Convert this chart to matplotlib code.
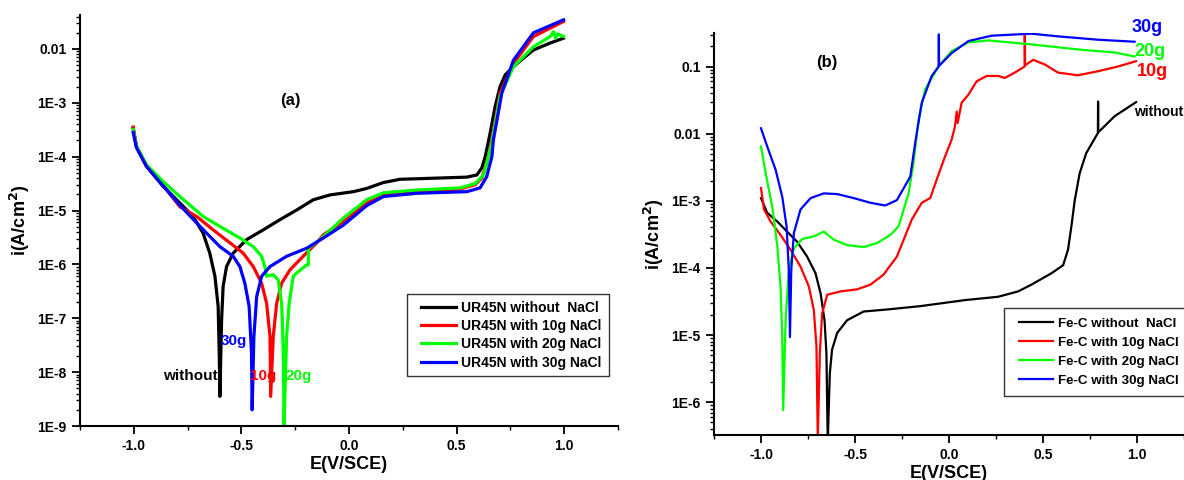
import numpy as np
import matplotlib.pyplot as plt
from matplotlib.lines import Line2D
from matplotlib.legend_handler import HandlerLine2D
from matplotlib.ticker import LogLocator, MultipleLocator, FixedLocator, FixedFormatter

plt.rcParams['font.family'] = ['Liberation Sans', 'DejaVu Sans']
plt.rcParams['font.weight'] = 'bold'

# ---- panel (a): UR45N, (E in V/SCE, log10 i) ----
a_black_E = [-1.003, -0.988, -0.941, -0.864, -0.786, -0.724, -0.678, -0.647, -0.623, -0.608,
             -0.603, -0.6, -0.592, -0.585, -0.569, -0.538, -0.476, -0.399, -0.321, -0.243,
             -0.166, -0.088, 0.02, 0.082, 0.16, 0.237, 0.392, 0.547, 0.594, 0.617, 0.633,
             0.656, 0.679, 0.702, 0.726, 0.764, 0.811, 0.857, 0.935, 0.997]
a_black_logi = [-3.47, -3.81, -4.18, -4.55, -4.86, -5.11, -5.42, -5.79, -6.22, -6.78,
                -7.65, -8.45, -7.03, -6.41, -6.04, -5.79, -5.54, -5.36, -5.17, -4.99,
                -4.80, -4.71, -4.65, -4.59, -4.48, -4.42, -4.40, -4.38, -4.34, -4.21, -4.0,
                -3.56, -3.07, -2.70, -2.48, -2.33, -2.17, -2.02, -1.89, -1.80]

a_red_E = [-1.003, -0.988, -0.941, -0.864, -0.786, -0.708, -0.631, -0.553, -0.492, -0.445,
           -0.406, -0.383, -0.367, -0.364, -0.352, -0.336, -0.313, -0.274, -0.213, -0.15,
           -0.119, -0.026, 0.082, 0.16, 0.315, 0.516, 0.586, 0.617, 0.64, 0.663, 0.702,
           0.764, 0.857, 0.997]
a_red_logi = [-3.45, -3.80, -4.17, -4.53, -4.93, -5.11, -5.36, -5.60, -5.79, -6.04,
              -6.35, -6.72, -7.34, -8.45, -7.34, -6.72, -6.35, -6.10, -5.85, -5.60,
              -5.45, -5.20, -4.86, -4.71, -4.65, -4.60, -4.52, -4.40, -4.12, -3.69, -2.82,
              -2.27, -1.77, -1.49]

a_green_E = [-1.003, -0.988, -0.941, -0.864, -0.786, -0.678, -0.585, -0.507, -0.445, -0.406,
             -0.391, -0.383, -0.352, -0.329, -0.313, -0.305, -0.302, -0.29, -0.278, -0.259,
             -0.243, -0.197, -0.189, -0.188, -0.135, -0.026, 0.082, 0.16, 0.315, 0.516,
             0.586, 0.625, 0.648, 0.663, 0.702, 0.764, 0.857, 0.935, 0.95, 0.96, 0.97, 0.997]
a_green_logi = [-3.5, -3.80, -4.15, -4.46, -4.74, -5.11, -5.33, -5.51, -5.67, -5.85,
                -6.04, -6.22, -6.19, -6.29, -6.72, -7.65, -9.0, -7.34, -6.72, -6.22,
                -6.16, -6.01, -6.01, -5.70, -5.54, -5.14, -4.80, -4.67, -4.62, -4.58,
                -4.5, -4.34, -4.0, -3.75, -2.88, -2.33, -1.96, -1.77, -1.68, -1.8, -1.72, -1.77]

a_blue_E = [-1.003, -0.988, -0.941, -0.864, -0.786, -0.708, -0.647, -0.6, -0.538, -0.507,
            -0.484, -0.464, -0.453, -0.45, -0.442, -0.429, -0.406, -0.367, -0.29, -0.197,
            -0.119, -0.026, 0.082, 0.16, 0.315, 0.547, 0.609, 0.64, 0.664, 0.671, 0.71,
            0.764, 0.857, 0.997]
a_blue_logi = [-3.55, -3.83, -4.18, -4.54, -4.9, -5.23, -5.48, -5.67, -5.85, -6.04,
               -6.35, -6.78, -7.65, -8.70, -7.34, -6.60, -6.22, -6.04, -5.85, -5.70,
               -5.51, -5.27, -4.91, -4.74, -4.68, -4.65, -4.58, -4.37, -4.0, -3.69, -2.82,
               -2.21, -1.70, -1.46]

# ---- panel (b): Fe-C ----
b_black_E = [-1.0, -0.967, -0.913, -0.861, -0.808, -0.755, -0.71, -0.683, -0.662, -0.652,
             -0.645, -0.634, -0.622, -0.595, -0.542, -0.454, -0.330, -0.153, 0.085, 0.262,
             0.368, 0.438, 0.545, 0.607, 0.633, 0.651, 0.669, 0.695, 0.73, 0.792, 0.793,
             0.794, 0.881, 0.995]
b_black_logi = [-2.96, -3.18, -3.31, -3.46, -3.61, -3.83, -4.08, -4.38, -4.78, -5.27,
                -6.6, -5.57, -5.22, -4.97, -4.78, -4.65, -4.62, -4.57, -4.48, -4.43,
                -4.35, -4.25, -4.08, -3.96, -3.73, -3.38, -2.99, -2.59, -2.29, -1.99, -1.52,
                -1.98, -1.74, -1.53]

b_red_E = [-1.0, -0.984, -0.949, -0.896, -0.843, -0.79, -0.745, -0.719, -0.705, -0.698,
           -0.687, -0.675, -0.648, -0.577, -0.489, -0.418, -0.348, -0.277, -0.198, -0.145,
           -0.10, -0.056, -0.021, 0.014, 0.032, 0.041, 0.046, 0.067, 0.103, 0.147, 0.2,
           0.262, 0.297, 0.35, 0.402, 0.403, 0.405, 0.448, 0.51, 0.58, 0.686, 0.792, 0.898, 0.995]
b_red_logi = [-2.81, -3.13, -3.31, -3.51, -3.73, -3.98, -4.28, -4.63, -5.17, -6.55,
              -5.27, -4.68, -4.40, -4.35, -4.32, -4.25, -4.10, -3.83, -3.28, -3.03,
              -2.96, -2.61, -2.34, -2.09, -1.89, -1.67, -1.84, -1.54, -1.42, -1.22, -1.14,
              -1.14, -1.17, -1.09, -1.0, -0.50, -0.98, -0.90, -0.97, -1.09, -1.13, -1.07, -1.0, -0.92]

b_green_E = [-1.0, -0.975, -0.94, -0.913, -0.896, -0.887, -0.882, -0.869, -0.852, -0.825,
             -0.781, -0.719, -0.666, -0.613, -0.542, -0.454, -0.383, -0.312, -0.268, -0.215,
             -0.189, -0.162, -0.127, -0.056, 0.014, 0.103, 0.209, 0.438, 0.704, 0.881, 0.987]
b_green_logi = [-2.19, -2.59, -3.09, -3.68, -4.28, -5.03, -6.12, -4.78, -4.03, -3.71,
                -3.57, -3.53, -3.46, -3.58, -3.66, -3.69, -3.63, -3.51, -3.38, -2.89,
                -2.44, -1.79, -1.34, -1.0, -0.77, -0.64, -0.61, -0.67, -0.75, -0.79, -0.85]

b_blue_E = [-1.0, -0.967, -0.922, -0.887, -0.864, -0.852, -0.846, -0.839, -0.825, -0.79,
            -0.736, -0.666, -0.595, -0.507, -0.418, -0.339, -0.277, -0.206, -0.18, -0.145,
            -0.092, -0.055, -0.054, -0.053, 0.014, 0.103, 0.227, 0.438, 0.58, 0.792, 0.987]
b_blue_logi = [-1.92, -2.19, -2.54, -2.94, -3.38, -4.03, -5.03, -4.03, -3.48, -3.13,
               -2.96, -2.89, -2.90, -2.96, -3.03, -3.07, -2.99, -2.64, -2.14, -1.54,
               -1.14, -1.0, -0.52, -0.99, -0.80, -0.62, -0.54, -0.51, -0.55, -0.60, -0.63]

labels_a = ['UR45N without  NaCl', 'UR45N with 10g NaCl', 'UR45N with 20g NaCl', 'UR45N with 30g NaCl']
labels_b = ['Fe-C without  NaCl', 'Fe-C with 10g NaCl', 'Fe-C with 20g NaCl', 'Fe-C with 30g NaCl']
colors = ['black', '#ff0000', '#00ff00', '#0000ff']

a_ticks = [1e-9, 1e-8, 1e-7, 1e-6, 1e-5, 1e-4, 1e-3, 1e-2]
a_ticklabels = ['1E-9', '1E-8', '1E-7', '1E-6', '1E-5', '1E-4', '1E-3', '0.01']
b_ticks = [1e-6, 1e-5, 1e-4, 1e-3, 1e-2, 1e-1]
b_ticklabels = ['1E-6', '1E-5', '1E-4', '1E-3', '0.01', '0.1']

fig = plt.figure(figsize=(11.84, 4.8), dpi=100)
ax1 = fig.add_axes([80/1184, 1-426/480, 538/1184, 411/480])
ax2 = fig.add_axes([714/1184, 1-435/480, 470/1184, 402/480])


def style(ax, ticks, ticklabels):
    ax.set_yscale('log')
    ax.spines['top'].set_visible(False)
    ax.spines['right'].set_visible(False)
    for s in ['left', 'bottom']:
        ax.spines[s].set_linewidth(1.5)
    ax.set_xlim(-1.25, 1.25)
    ax.xaxis.set_major_locator(MultipleLocator(0.5))
    ax.xaxis.set_minor_locator(MultipleLocator(0.25))
    ax.yaxis.set_major_locator(FixedLocator(ticks))
    ax.yaxis.set_major_formatter(FixedFormatter(ticklabels))
    ax.yaxis.set_minor_locator(LogLocator(base=10, subs=np.arange(2, 10)))
    ax.tick_params(which='major', direction='out', length=6, width=1.3, labelsize=10)
    ax.tick_params(which='minor', direction='out', length=3, width=1.0)
    ax.set_xlabel('E(V/SCE)', fontsize=13, fontweight='bold', labelpad=2)
    ax.set_ylabel('i(A/cm$^\\mathbf{2}$)', fontsize=13, fontweight='bold')
    ax.set_xticks([-1.0, -0.5, 0.0, 0.5, 1.0])
    ax.set_xticklabels(['-1.0', '-0.5', '0.0', '0.5', '1.0'])
    for lab in ax.get_xticklabels() + ax.get_yticklabels():
        lab.set_fontweight('bold')


# panel (a)
series_a = [(a_black_E, a_black_logi), (a_red_E, a_red_logi), (a_green_E, a_green_logi), (a_blue_E, a_blue_logi)]
for (E, li), c, lab in zip(series_a, colors, labels_a):
    ax1.plot(E, 10 ** np.array(li), color=c, linewidth=2.3, label=lab)
style(ax1, a_ticks, a_ticklabels)
ax1.set_ylim(1e-9, 10 ** -1.37)
ax1.legend(loc='upper left', bbox_to_anchor=(0.608, 0.321), borderaxespad=0, frameon=True,
           fancybox=False, edgecolor='black', handlelength=3.0, handletextpad=0.4,
           labelspacing=0.3, borderpad=0.5, prop={'weight': 'bold', 'size': 10},
           handler_map={Line2D: HandlerLine2D(xpad=0.5)})
ax1.text(-0.274, 10 ** -2.95, '(a)', fontsize=12, fontweight='bold', ha='center', va='center')
ax1.text(-0.61, 10 ** -8.08, 'without', fontsize=11, fontweight='bold', ha='right', va='center')
ax1.text(-0.475, 10 ** -7.42, '30g', fontsize=11, fontweight='bold', color='#0000ff', ha='right', va='center')
ax1.text(-0.46, 10 ** -8.08, '10g', fontsize=11, fontweight='bold', color='#ff0000', ha='left', va='center')
ax1.text(-0.295, 10 ** -8.08, '20g', fontsize=11, fontweight='bold', color='#00ff00', ha='left', va='center')

# panel (b)
series_b = [(b_black_E, b_black_logi), (b_red_E, b_red_logi), (b_green_E, b_green_logi), (b_blue_E, b_blue_logi)]
for (E, li), c, lab in zip(series_b, colors, labels_b):
    ax2.plot(E, 10 ** np.array(li), color=c, linewidth=1.6, label=lab)
style(ax2, b_ticks, b_ticklabels)
ax2.set_ylim(10 ** -6.49, 10 ** -0.5)
ax2.legend(loc='upper left', bbox_to_anchor=(0.617, 0.315), borderaxespad=0, frameon=True,
           fancybox=False, edgecolor='black', handlelength=3.0, handletextpad=0.35,
           labelspacing=0.5, borderpad=0.7, prop={'weight': 'bold', 'size': 9.6},
           handler_map={Line2D: HandlerLine2D(xpad=0.45)})
ax2.text(-0.65, 10 ** -0.94, '(b)', fontsize=12, fontweight='bold', ha='center', va='center')
ax2.text(0.97, 10 ** -0.42, '30g', fontsize=13, fontweight='bold', color='#0000ff', ha='left', va='center', clip_on=False)
ax2.text(0.985, 10 ** -0.78, '20g', fontsize=13, fontweight='bold', color='#00ff00', ha='left', va='center', clip_on=False)
ax2.text(1.0, 10 ** -1.07, '10g', fontsize=13, fontweight='bold', color='#ff0000', ha='left', va='center', clip_on=False)
ax2.text(0.985, 10 ** -1.67, 'without', fontsize=10, fontweight='bold', ha='left', va='center', clip_on=False)

fig.savefig('out.png', dpi=100)
